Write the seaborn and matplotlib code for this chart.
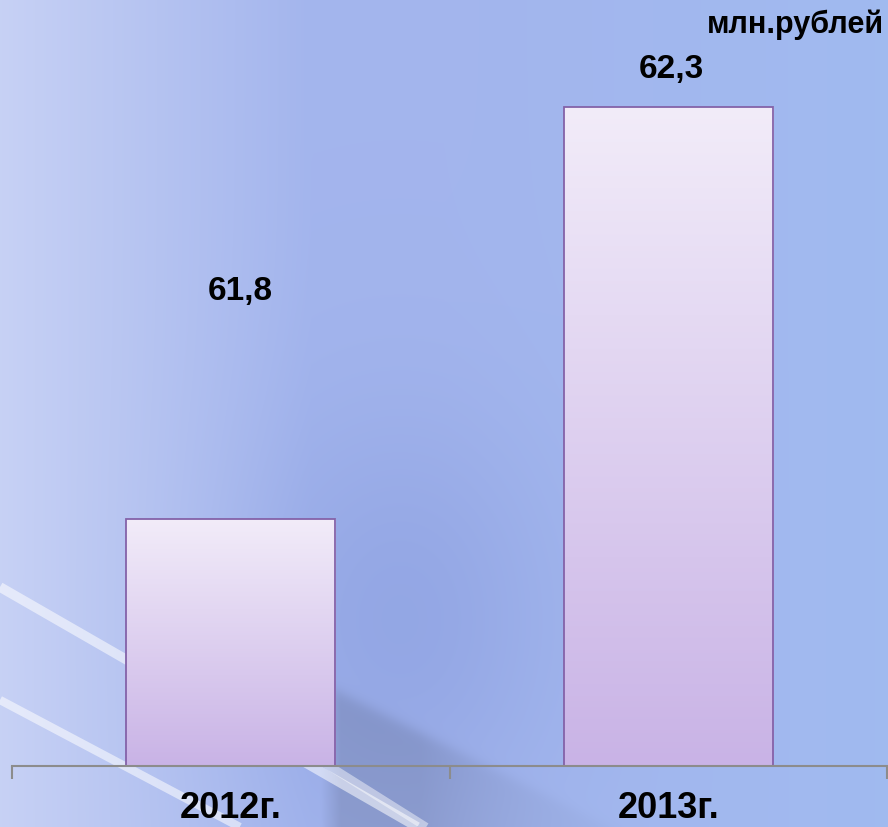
import matplotlib
matplotlib.use("Agg")
import matplotlib.pyplot as plt
import seaborn as sns
import pandas as pd
import numpy as np
from matplotlib.colors import LinearSegmentedColormap

# data
years = ["2012г.", "2013г."]
values = [61.8, 62.3]
value_labels = ["61,8", "62,3"]
unit = "млн.рублей"
# label offsets from the bar top (points), as placed on the slide
label_offsets = [(7, 164), (2, 27)]

sns.set_theme(style="white")
plt.rcParams['font.family'] = ['Liberation Sans', 'DejaVu Sans']

fig = plt.figure(figsize=(8.88, 8.27), dpi=100)

# slide background: bluish gradient with light diagonal streaks
bg = fig.add_axes([0, 0, 1, 1], zorder=0)
h, w = 413, 444
yy, xx = np.mgrid[0:1:h*1j, 0:1:w*1j]   # yy = 0 at top
c_left = np.array([0.78, 0.82, 0.96])
c_mid = np.array([0.64, 0.71, 0.93])
c_right = np.array([0.63, 0.73, 0.94])
c_dark = np.array([0.53, 0.61, 0.87])
t = np.clip(xx / 0.35, 0, 1)[..., None]
img = c_left * (1 - t) + c_mid * t
t2 = np.clip((xx - 0.5) / 0.5, 0, 1)[..., None]
img = img * (1 - t2) + c_right * t2
blob = np.exp(-((xx - 0.45) ** 2 / 0.03 + (yy - 0.75) ** 2 / 0.06))[..., None]
img = img * (1 - 0.55 * blob) + c_dark * 0.55 * blob
# soft shadow band below a diagonal in the lower middle
px, py = xx * 888, yy * 827
below = 1 / (1 + np.exp(-(py - (690 + 0.5 * (px - 333))) / 4))
ramp_x = np.clip((px - 320) / 20, 0, 1) * np.exp(-np.clip(px - 420, 0, None) / 120)
shade = (below * ramp_x)[..., None]
img = img * (1 - 0.12 * shade)
bg.imshow(img, extent=[0, 1, 0, 1], aspect="auto", origin="upper", interpolation="bilinear")
for x0, y0, x1, y1, lw, a in [(0.0, 1 - 587/827, 0.47, 0.0, 7, 0.55),
                               (0.0, 1 - 700/827, 0.27, 0.0, 6, 0.55),
                               (0.36, 1 - 760/827, 0.48, 0.0, 6, 0.45)]:
    bg.plot([x0, x1], [y0, y1], color="white", lw=lw, alpha=a, solid_capstyle="butt")
bg.set_xlim(0, 1)
bg.set_ylim(0, 1)
bg.axis("off")

ax = fig.add_axes([12/888, 61/827, 875/888, 766/827], zorder=1)
ax.patch.set_alpha(0)

df = pd.DataFrame({"year": years, "value": values})
sns.barplot(data=df, x="year", y="value", ax=ax, width=0.478,
            color="#e0d4f0", edgecolor="#8462a8", linewidth=1.3)

ymin, ymax = 61.5, 61.5 + 766/824
ax.set_ylim(ymin, ymax)
ax.set_xlim(-0.5, 1.5)

# gradient fill inside bars
cmap = LinearSegmentedColormap.from_list("bar", ["#c9b3e6", "#f2ecf9"])
grad = np.linspace(0, 1, 256).reshape(-1, 1)
for p in ax.patches:
    x0, y0 = p.get_x(), p.get_y()
    im = ax.imshow(grad, cmap=cmap, origin="lower", aspect="auto",
                   extent=[x0, x0 + p.get_width(), ymin, y0 + p.get_height()],
                   zorder=1.1)
    im.set_clip_path(p)
    p.set_facecolor("none")
    p.set_zorder(1.2)
ax.set_xlim(-0.5, 1.5)
ax.set_ylim(ymin, ymax)

for i, (v, lab) in enumerate(zip(values, value_labels)):
    ax.annotate(lab, (i, v), xytext=label_offsets[i], textcoords="offset points",
                ha="center", va="center", fontsize=24, fontweight="bold", color="black")

fig.text(884/888, 1 - 25/827, unit, ha="right", va="center", fontsize=22,
         fontweight="bold", color="black")

for s in ["top", "right", "left"]:
    ax.spines[s].set_visible(False)
ax.spines["bottom"].set_color("#8c8c8c")
ax.spines["bottom"].set_linewidth(1.5)
ax.spines["bottom"].set_zorder(3)
ax.set_yticks([])
ax.set_xticks([0, 1])
ax.set_xticklabels(years, fontsize=26, fontweight="bold", color="black")
ax.tick_params(axis="x", which="major", length=0, pad=18)
ax.set_xticks([-0.5, 0.5, 1.5], minor=True)
ax.tick_params(axis="x", which="minor", bottom=True, length=9, width=1.5, color="#8c8c8c")
ax.set_xlabel("")
ax.set_ylabel("")

fig.savefig("out.png", dpi=100)
